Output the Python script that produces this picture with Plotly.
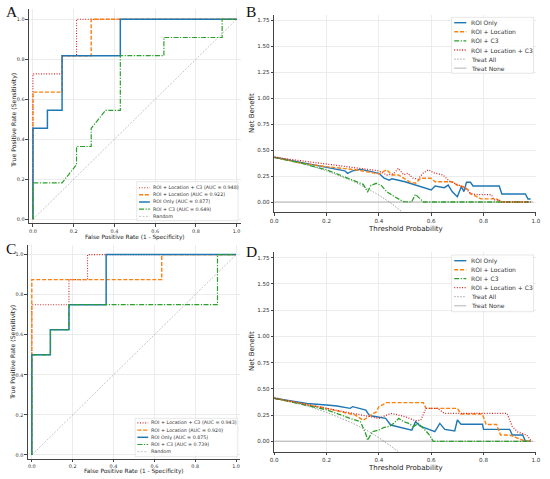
import plotly.graph_objects as go

W, H = 550, 479

# ROC curves, panel A
roc_a_names = ['ROI + Location + C3 (AUC = 0.948)', 'ROI + Location (AUC = 0.922)',
               'ROI Only (AUC = 0.877)', 'ROI + C3 (AUC = 0.649)']
roc_a_fpr = [
    [0, 0, 0.143, 0.143, 0.214, 0.214, 1.0],
    [0, 0, 0.143, 0.143, 0.286, 0.286, 1.0],
    [0, 0, 0.071, 0.071, 0.143, 0.143, 0.429, 0.429, 1.0],
    [0, 0, 0.143, 0.214, 0.214, 0.286, 0.286, 0.357, 0.429, 0.429, 0.643, 0.643, 0.929, 0.929, 1.0],
]
roc_a_tpr = [
    [0, 0.727, 0.727, 0.818, 0.818, 1.0, 1.0],
    [0, 0.636, 0.636, 0.818, 0.818, 1.0, 1.0],
    [0, 0.455, 0.455, 0.545, 0.545, 0.818, 0.818, 1.0, 1.0],
    [0, 0.182, 0.182, 0.273, 0.364, 0.364, 0.455, 0.545, 0.545, 0.818, 0.818, 0.909, 0.909, 1.0, 1.0],
]

# ROC curves, panel C
roc_c_names = ['ROI + Location + C3 (AUC = 0.943)', 'ROI + Location (AUC = 0.920)',
               'ROI Only (AUC = 0.875)', 'ROI + C3 (AUC = 0.739)']
roc_c_fpr = [
    [0, 0, 0.182, 0.182, 0.273, 0.273, 1.0],
    [0, 0, 0.636, 0.636, 1.0],
    [0, 0, 0.091, 0.091, 0.182, 0.182, 0.364, 0.364, 1.0],
    [0, 0, 0.091, 0.091, 0.182, 0.182, 0.909, 0.909, 1.0],
]
roc_c_tpr = [
    [0, 0.75, 0.75, 0.875, 0.875, 1.0, 1.0],
    [0, 0.875, 0.875, 1.0, 1.0],
    [0, 0.5, 0.5, 0.625, 0.625, 0.75, 0.75, 1.0, 1.0],
    [0, 0.5, 0.5, 0.625, 0.625, 0.75, 0.75, 1.0, 1.0],
]
random_line = [0, 1]

# decision curves, panel B
dca_names = ['ROI Only', 'ROI + Location', 'ROI + C3', 'ROI + Location + C3']
b_roi_t = [0, 0.1, 0.2, 0.27, 0.28, 0.30, 0.33, 0.375, 0.40, 0.42, 0.44, 0.45, 0.50, 0.60, 0.615,
           0.65, 0.665, 0.68, 0.70, 0.715, 0.725, 0.735, 0.75, 0.76, 0.86, 0.87, 0.96, 0.97, 0.98]
b_roi_nb = [0.43, 0.378, 0.333, 0.30, 0.276, 0.30, 0.314, 0.29, 0.276, 0.23, 0.21, 0.224, 0.195, 0.115, 0.154,
            0.138, 0.163, 0.10, 0.051, 0.147, 0.10, 0.19, 0.19, 0.154, 0.154, 0.077, 0.077, 0.029, 0.029]
b_loc_t = [0, 0.1, 0.2, 0.29, 0.31, 0.40, 0.43, 0.45, 0.475, 0.52, 0.54, 0.56, 0.60, 0.615,
           0.68, 0.70, 0.725, 0.74, 0.75, 0.775, 0.79, 0.85, 0.865, 0.98]
b_loc_nb = [0.43, 0.375, 0.34, 0.31, 0.31, 0.27, 0.31, 0.26, 0.26, 0.19, 0.18, 0.228, 0.228, 0.195,
            0.195, 0.16, 0.147, 0.12, 0.08, 0.05, 0.03, 0.03, 0.0, 0.0]
b_c3_t = [0, 0.1, 0.2, 0.3, 0.34, 0.357, 0.37, 0.39, 0.41, 0.43, 0.46, 0.495, 0.525, 0.54, 0.55, 0.57, 0.98]
b_c3_nb = [0.43, 0.375, 0.31, 0.21, 0.17, 0.10, 0.16, 0.18, 0.157, 0.10, 0.05, 0.003, 0.0, 0.074, 0.05, 0.0, 0.0]
b_all_t = [0, 0.25, 0.325, 0.40, 0.43, 0.455, 0.475, 0.495, 0.51, 0.53, 0.55, 0.57, 0.59, 0.61,
           0.645, 0.67, 0.72, 0.74, 0.75, 0.78, 0.83, 0.84, 0.86, 0.87, 0.98]
b_all_nb = [0.43, 0.346, 0.324, 0.30, 0.26, 0.27, 0.324, 0.26, 0.276, 0.23, 0.22, 0.28, 0.31, 0.28,
            0.26, 0.20, 0.147, 0.11, 0.08, 0.07, 0.07, 0.02, 0.02, 0.0, 0.0]
b_treat_all_t = [0, 0.1, 0.2, 0.3, 0.35, 0.4, 0.45, 0.49]
b_treat_all_nb = [0.44, 0.378, 0.30, 0.20, 0.138, 0.067, -0.018, -0.098]

# decision curves, panel D
d_roi_t = [0, 0.125, 0.2, 0.24, 0.29, 0.30, 0.35, 0.363, 0.375, 0.426, 0.445, 0.526, 0.54, 0.558,
           0.614, 0.633, 0.652, 0.69, 0.70, 0.714, 0.796, 0.80, 0.90, 0.91, 0.95, 0.96, 0.98]
d_roi_nb = [0.41, 0.36, 0.346, 0.336, 0.314, 0.33, 0.298, 0.25, 0.241, 0.218, 0.155, 0.107, 0.187, 0.145,
            0.092, 0.171, 0.114, 0.098, 0.203, 0.162, 0.162, 0.114, 0.114, 0.06, 0.06, 0.0, 0.0]
d_loc_t = [0, 0.2, 0.31, 0.34, 0.36, 0.39, 0.40, 0.43, 0.57, 0.58, 0.70, 0.714, 0.796, 0.81,
           0.85, 0.865, 0.90, 0.93, 0.96, 0.98]
d_loc_nb = [0.41, 0.314, 0.25, 0.20, 0.234, 0.28, 0.33, 0.368, 0.368, 0.314, 0.314, 0.26, 0.26, 0.16,
            0.16, 0.06, 0.06, 0.03, 0.0, 0.0]
d_c3_t = [0, 0.2, 0.3, 0.33, 0.35, 0.357, 0.375, 0.40, 0.42, 0.44, 0.457, 0.476, 0.495, 0.514,
          0.533, 0.55, 0.57, 0.59, 0.608, 0.98]
d_c3_nb = [0.41, 0.30, 0.21, 0.186, 0.07, 0.01, 0.092, 0.107, 0.133, 0.14, 0.171, 0.218, 0.186, 0.17,
           0.14, 0.171, 0.124, 0.07, 0.0, 0.0]
d_all_t = [0, 0.2, 0.3, 0.4, 0.43, 0.45, 0.5, 0.54, 0.56, 0.58, 0.625, 0.65, 0.89, 0.91, 0.93, 0.965, 0.98]
d_all_nb = [0.41, 0.314, 0.26, 0.218, 0.25, 0.266, 0.234, 0.196, 0.2, 0.314, 0.314, 0.266, 0.266,
            0.14, 0.09, 0.06, 0.01]
d_treat_all_t = [0, 0.1, 0.2, 0.3, 0.35, 0.4, 0.45, 0.475]
d_treat_all_nb = [0.421, 0.357, 0.276, 0.173, 0.109, 0.035, -0.053, -0.1]
treat_none_t = [0, 0.99]
treat_none_nb = [0, 0]

BLUE, ORANGE, GREEN, RED = '#1f77b4', '#ff7f0e', '#2ca02c', '#d62728'
DOT = '1px,1.6px'
DASH = '4px,1.8px'
DASHDOT = '5px,1.5px,1.2px,1.5px'
roc_colors = [RED, ORANGE, BLUE, GREEN]
roc_dashes = [DOT, DASH, 'solid', DASHDOT]
roc_widths = [1.1, 1.4, 1.5, 1.2]
dca_colors = [BLUE, ORANGE, GREEN, RED]
dca_dashes = ['solid', DASH, DASHDOT, DOT]
dca_widths = [1.4, 1.4, 1.3, 1.3]
RANDOM_COL = 'rgba(90,90,90,0.5)'
TREAT_ALL_COL = 'rgba(120,120,120,0.75)'
TREAT_NONE_COL = 'rgba(170,170,170,0.6)'

FONT = 'DejaVu Sans'


def px_x(p):
    return p / W


def px_y(p):
    return 1 - p / H


fig = go.Figure()

# ROC panels
for fprs, tprs, xa, ya in [(roc_a_fpr, roc_a_tpr, 'x', 'y'), (roc_c_fpr, roc_c_tpr, 'x3', 'y3')]:
    for k in range(4):
        fig.add_trace(go.Scatter(x=fprs[k], y=tprs[k], mode='lines', xaxis=xa, yaxis=ya,
                                 line=dict(color=roc_colors[k], dash=roc_dashes[k], width=roc_widths[k]),
                                 showlegend=False))
    fig.add_trace(go.Scatter(x=random_line, y=random_line, mode='lines', xaxis=xa, yaxis=ya,
                             line=dict(color=RANDOM_COL, dash='2px,1.5px', width=0.7), showlegend=False))

# DCA panels
b_series = [(b_roi_t, b_roi_nb), (b_loc_t, b_loc_nb), (b_c3_t, b_c3_nb), (b_all_t, b_all_nb)]
d_series = [(d_roi_t, d_roi_nb), (d_loc_t, d_loc_nb), (d_c3_t, d_c3_nb), (d_all_t, d_all_nb)]
for series, ta_t, ta_nb, xa, ya in [(b_series, b_treat_all_t, b_treat_all_nb, 'x2', 'y2'),
                                    (d_series, d_treat_all_t, d_treat_all_nb, 'x4', 'y4')]:
    fig.add_trace(go.Scatter(x=treat_none_t, y=treat_none_nb, mode='lines', xaxis=xa, yaxis=ya,
                             line=dict(color=TREAT_NONE_COL, width=1.5), showlegend=False))
    fig.add_trace(go.Scatter(x=ta_t, y=ta_nb, mode='lines', xaxis=xa, yaxis=ya,
                             line=dict(color=TREAT_ALL_COL, dash='1.5px,1.5px', width=0.9), showlegend=False))
    for k in range(4):
        fig.add_trace(go.Scatter(x=series[k][0], y=series[k][1], mode='lines', xaxis=xa, yaxis=ya,
                                 line=dict(color=dca_colors[k], dash=dca_dashes[k], width=dca_widths[k]),
                                 showlegend=False))

axis_common = dict(showline=True, linecolor='#444', linewidth=0.8, mirror=False,
                   showgrid=True, gridcolor='#ececec', gridwidth=0.6, zeroline=False,
                   ticks='outside', ticklen=2.5, tickwidth=0.7, tickcolor='#444')
roc_tick = dict(size=4.9, family=FONT, color='#333')
dca_tick = dict(size=5.6, family=FONT, color='#333')

fig.update_layout(
    width=W, height=H, margin=dict(l=0, r=0, t=0, b=0),
    paper_bgcolor='white', plot_bgcolor='white', showlegend=False,
    xaxis=dict(axis_common, domain=[px_x(25.3), px_x(240.6)], range=[-0.02, 1.02], anchor='y',
               tickvals=[0, 0.2, 0.4, 0.6, 0.8, 1.0], tickformat='.1f', tickfont=roc_tick),
    yaxis=dict(axis_common, domain=[px_y(223.3), px_y(9.3)], range=[-0.02, 1.05], anchor='x',
               tickvals=[0, 0.2, 0.4, 0.6, 0.8, 1.0], tickformat='.1f', tickfont=roc_tick),
    xaxis2=dict(axis_common, domain=[px_x(274.7), px_x(540.7)], range=[0, 1], anchor='y2',
                tickvals=[0, 0.2, 0.4, 0.6, 0.8, 1.0], tickformat='.1f', tickfont=dca_tick),
    yaxis2=dict(axis_common, domain=[px_y(212.4), px_y(14.8)], range=[-0.1, 1.8], anchor='x2',
                tickvals=[0, 0.25, 0.5, 0.75, 1.0, 1.25, 1.5, 1.75], tickformat='.2f', tickfont=dca_tick),
    xaxis3=dict(axis_common, domain=[px_x(24.1), px_x(240.1)], range=[-0.02, 1.02], anchor='y3',
                tickvals=[0, 0.2, 0.4, 0.6, 0.8, 1.0], tickformat='.1f', tickfont=roc_tick),
    yaxis3=dict(axis_common, domain=[px_y(459), px_y(244.6)], range=[-0.02, 1.05], anchor='x3',
                tickvals=[0, 0.2, 0.4, 0.6, 0.8, 1.0], tickformat='.1f', tickfont=roc_tick),
    xaxis4=dict(axis_common, domain=[px_x(274.7), px_x(540.7)], range=[0, 1], anchor='y4',
                tickvals=[0, 0.2, 0.4, 0.6, 0.8, 1.0], tickformat='.1f', tickfont=dca_tick),
    yaxis4=dict(axis_common, domain=[px_y(451.8), px_y(252.3)], range=[-0.1, 1.8], anchor='x4',
                tickvals=[0, 0.25, 0.5, 0.75, 1.0, 1.25, 1.5, 1.75], tickformat='.2f', tickfont=dca_tick),
)


def add_text(x, y, text, size, angle=0, family=FONT, color='#222', xanchor='center'):
    fig.add_annotation(x=px_x(x), y=px_y(y), xref='paper', yref='paper', text=text, showarrow=False,
                       textangle=angle, xanchor=xanchor, yanchor='middle', borderpad=0,
                       font=dict(size=size, family=family, color=color))


# axis titles
add_text(133, 237, 'False Positive Rate (1 - Specificity)', 5.8)
add_text(10, 120, 'True Positive Rate (Sensitivity)', 6.2, angle=-90)
add_text(408, 229, 'Threshold Probability', 7)
add_text(252, 113, 'Net Benefit', 7, angle=-90)
add_text(132, 471.7, 'False Positive Rate (1 - Specificity)', 5.8)
add_text(9, 352, 'True Positive Rate (Sensitivity)', 6.2, angle=-90)
add_text(408, 467.5, 'Threshold Probability', 7)
add_text(252, 351, 'Net Benefit', 7, angle=-90)

# panel letters
serif = 'Liberation Serif'
add_text(8, 11, 'A', 15.5, family=serif, color='#111')
add_text(251, 11, 'B', 15.5, family=serif, color='#111')
add_text(7.5, 249, 'C', 15.5, family=serif, color='#111')
add_text(252, 251, 'D', 15.5, family=serif, color='#111')


def add_legend(box, rows, sample, text_x, names, colors, dashes, widths, size):
    fig.add_shape(type='rect', xref='paper', yref='paper',
                  x0=px_x(box[0]), x1=px_x(box[2]), y0=px_y(box[3]), y1=px_y(box[1]),
                  line=dict(color='#d6d6d6', width=0.6), fillcolor='rgba(255,255,255,0.85)')
    for row, name, col, dash, wid in zip(rows, names, colors, dashes, widths):
        fig.add_shape(type='line', xref='paper', yref='paper',
                      x0=px_x(sample[0]), x1=px_x(sample[1]), y0=px_y(row), y1=px_y(row),
                      line=dict(color=col, dash=dash, width=wid))
        add_text(text_x, row, name, size, color='#333', xanchor='left')


roc_leg_colors = roc_colors + [RANDOM_COL]
roc_leg_dashes = roc_dashes + ['2px,1.5px']
roc_leg_widths = roc_widths + [0.7]
add_legend((135, 181.7, 238, 220.7), [187.7, 194.8, 202, 209.2, 216.4], (137.3, 148.3), 150.5,
           roc_a_names + ['Random'], roc_leg_colors, roc_leg_dashes, roc_leg_widths, 4.8)
add_legend((133.3, 418.3, 237.7, 456.7), [422.9, 430.1, 437.3, 444.5, 451.7], (135.6, 146.6), 148.8,
           roc_c_names + ['Random'], roc_leg_colors, roc_leg_dashes, roc_leg_widths, 4.8)

dca_leg_names = dca_names + ['Treat All', 'Treat None']
dca_leg_colors = dca_colors + [TREAT_ALL_COL, TREAT_NONE_COL]
dca_leg_dashes = dca_dashes + ['1.5px,1.5px', 'solid']
dca_leg_widths = dca_widths + [0.9, 1.5]
add_legend((455, 17.3, 538.3, 73.3), [22.7, 31.8, 40.9, 50, 59.1, 68.2], (457.7, 470), 473.5,
           dca_leg_names, dca_leg_colors, dca_leg_dashes, dca_leg_widths, 6)
add_legend((455, 255, 538.3, 311.7), [260.7, 269.7, 278.7, 287.7, 296.7, 305.7], (457.7, 470), 473.5,
           dca_leg_names, dca_leg_colors, dca_leg_dashes, dca_leg_widths, 6)

# the page body has a default margin; drop it so the figure fills the window
fig.write_html("out.html", config={'displayModeBar': False},
               post_script="document.body.style.margin='0px';")
